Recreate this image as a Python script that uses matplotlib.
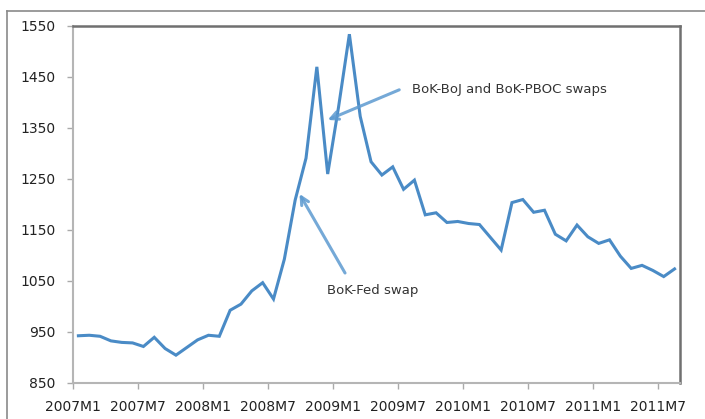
import matplotlib as mpl
mpl.use('Agg')
import matplotlib.pyplot as plt
from matplotlib.lines import Line2D

# KRW/USD, monthly, 2007M1 .. 2011M8
months = ["2007M%d" % m for m in range(1, 13)] + \
         ["2008M%d" % m for m in range(1, 13)] + \
         ["2009M%d" % m for m in range(1, 13)] + \
         ["2010M%d" % m for m in range(1, 13)] + \
         ["2011M%d" % m for m in range(1, 9)]
rate = [942, 943, 941, 932, 929, 928, 921, 939, 917, 904, 919, 934,
        943, 941, 992, 1004, 1030, 1046, 1014, 1092, 1208, 1290, 1469, 1259,
        1390, 1533, 1372, 1283, 1257, 1273, 1229, 1247, 1179, 1183, 1164, 1166,
        1162, 1160, 1135, 1110, 1203, 1209, 1184, 1188, 1141, 1128, 1159, 1136,
        1123, 1130, 1098, 1074, 1080, 1070, 1058, 1073]
tick_labels = ["2007M1", "2007M7", "2008M1", "2008M7", "2009M1", "2009M7",
               "2010M1", "2010M7", "2011M1", "2011M7"]
yticks = [850, 950, 1050, 1150, 1250, 1350, 1450, 1550]

fig = plt.figure(figsize=(7.05, 4.19), dpi=100)
ax = fig.add_axes([0.1035, 0.0866, 0.861, 0.8525])

x = [i + 0.5 for i in range(len(rate))]
ax.plot(x, rate, color='#4a8bc6', lw=2.2, solid_joinstyle='miter')

ax.set_xlim(0, len(rate))
ax.set_ylim(850, 1550)
ax.set_xticks([months.index(t) for t in tick_labels])
ax.set_xticklabels(tick_labels)
ax.set_yticks(yticks)

ax.tick_params(axis='both', direction='out', length=4.5, width=1,
               color='#aaaaaa', labelsize=10, labelcolor='#222222', pad=8)

for s in ['left', 'bottom']:
    ax.spines[s].set_color('#b5b5b5')
    ax.spines[s].set_linewidth(1.5)
for s in ['top', 'right']:
    ax.spines[s].set_color('#707070')
    ax.spines[s].set_linewidth(1.8)

arrow = dict(arrowstyle='->', color='#5d9ad0', lw=2.2, alpha=0.85,
             mutation_scale=14, shrinkA=0, shrinkB=0)
ax.annotate("", xy=(23.5, 1365), xytext=(30.1, 1424), arrowprops=arrow)
ax.text(31.3, 1425, "BoK-BoJ and BoK-PBOC swaps", fontsize=9.5,
        color='#333333', va='center', ha='left')
ax.annotate("", xy=(20.9, 1220), xytext=(25.1, 1065), arrowprops=arrow)
ax.text(23.4, 1031, "BoK-Fed swap", fontsize=9.5, color='#333333',
        va='center', ha='left')

# outer chart border
fig.add_artist(Line2D([7 / 705, 1], [1 - 11 / 419, 1 - 11 / 419],
                      color='#8a8a8a', lw=1.2, transform=fig.transFigure))
fig.add_artist(Line2D([7 / 705, 7 / 705], [0, 1 - 11 / 419],
                      color='#8a8a8a', lw=1.2, transform=fig.transFigure))

fig.savefig('out.png', dpi=100)
